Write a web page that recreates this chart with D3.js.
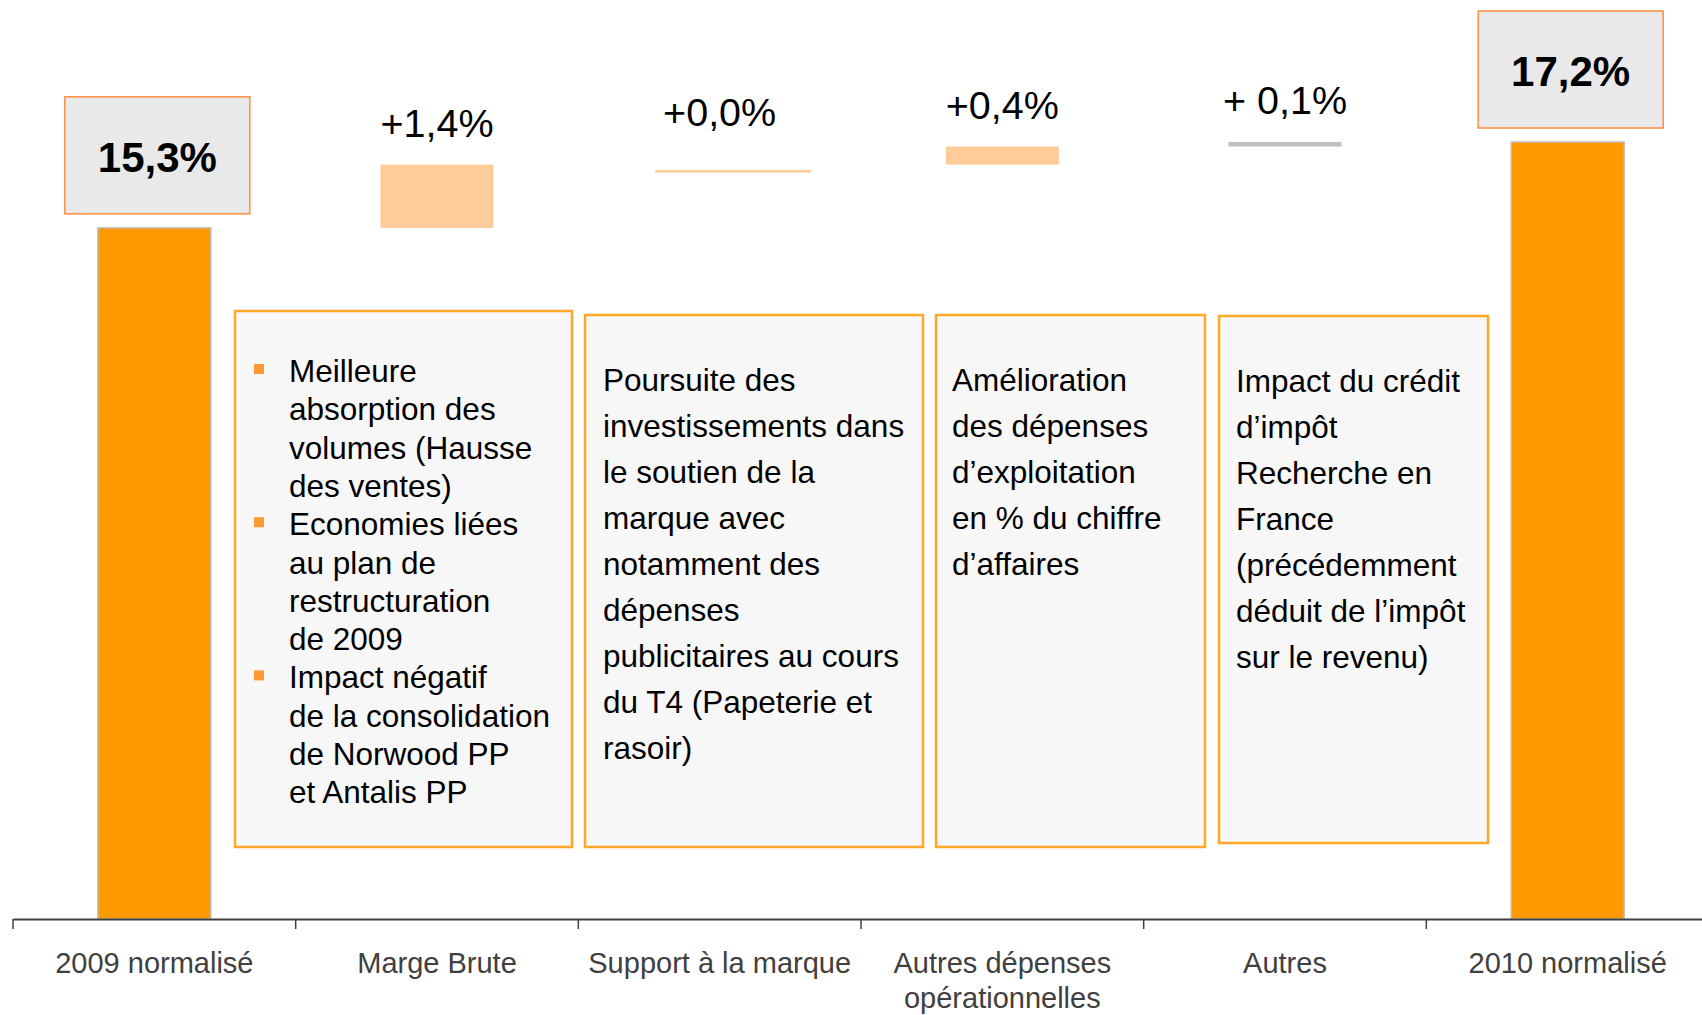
<!DOCTYPE html>
<html lang="fr">
<head>
<meta charset="utf-8">
<script src="https://cdn.jsdelivr.net/npm/d3@7"></script>
<style>
  body { margin: 0; background: #fff; }
  svg { display: block; font-family: "Liberation Sans", Arial, sans-serif; }
</style>
</head>
<body>
<div id="chart"></div>
<script>
// categories (one entry per bar, split into label lines)
var categories = ["2009 normalisé", "Marge Brute", "Support à la marque",
                  "Autres dépenses opérationnelles", "Autres", "2010 normalisé"];
var categoryLines = [["2009 normalisé"], ["Marge Brute"], ["Support à la marque"],
                     ["Autres dépenses", "opérationnelles"], ["Autres"], ["2010 normalisé"]];

// waterfall levels in %
var stepLow  = [0,    15.3, 16.55, 16.7, 17.1, 0];
var stepHigh = [15.3, 16.7, 16.55, 17.1, 17.2, 17.2];
var stepKind = ["total", "up", "flat", "up", "other", "total"];
var stepLabels = ["15,3%", "+1,4%", "+0,0%", "+0,4%", "+ 0,1%", "17,2%"];

// comment boxes
var noteMarge = [["Meilleure", "absorption des", "volumes (Hausse", "des ventes)"],
                 ["Economies liées", "au plan de", "restructuration", "de 2009"],
                 ["Impact négatif", "de la consolidation", "de Norwood PP", "et Antalis PP"]];
var noteSupport = ["Poursuite des", "investissements dans", "le soutien de la", "marque avec",
                   "notamment des", "dépenses", "publicitaires au cours", "du T4 (Papeterie et", "rasoir)"];
var noteDepenses = ["Amélioration", "des dépenses", "d\u2019exploitation", "en % du chiffre", "d\u2019affaires"];
var noteAutres = ["Impact du crédit", "d\u2019impôt", "Recherche en", "France", "(précédemment",
                  "déduit de l\u2019impôt", "sur le revenu)"];

var width = 1702, height = 1015;

var svg = d3.select("#chart").append("svg")
    .attr("width", width)
    .attr("height", height);

var x = d3.scaleBand().domain(categories).range([13, 1709]).padding(0);
var y = d3.scaleLinear().domain([0, 17.2]).range([919, 142]);
var bw = x.bandwidth();

var steps = categories.map(function(c, i) {
    return { cat: c, low: stepLow[i], high: stepHigh[i], kind: stepKind[i], label: stepLabels[i], lines: categoryLines[i] };
});

// comment boxes (drawn first, behind everything)
var noteBoxes = [
    { x: 235, y: 311, w: 337, h: 536 },
    { x: 585, y: 315, w: 338, h: 532 },
    { x: 936, y: 315, w: 269, h: 532 },
    { x: 1219, y: 316, w: 269, h: 527 }
];
var notes = svg.append("g").attr("class", "notes");
notes.selectAll("rect")
    .data(noteBoxes)
    .enter().append("rect")
    .attr("x", function(d) { return d.x; })
    .attr("y", function(d) { return d.y; })
    .attr("width", function(d) { return d.w; })
    .attr("height", function(d) { return d.h; })
    .attr("fill", "#f7f7f7")
    .attr("stroke", "#ffa726")
    .attr("stroke-width", 2.5);

// bulleted box
var lineNo = 0;
noteMarge.forEach(function(group) {
    notes.append("rect")
        .attr("x", 254).attr("y", 382 + lineNo * 38.3 - 18)
        .attr("width", 10).attr("height", 10)
        .attr("fill", "#ff9933");
    group.forEach(function(t) {
        notes.append("text")
            .attr("x", 289).attr("y", 382 + lineNo * 38.3)
            .attr("font-size", 31.5).attr("fill", "#000")
            .text(t);
        lineNo++;
    });
});

function plainNote(lines, left, top) {
    notes.append("g").selectAll("text")
        .data(lines)
        .enter().append("text")
        .attr("x", left)
        .attr("y", function(d, i) { return top + i * 46; })
        .attr("font-size", 31.5)
        .attr("fill", "#000")
        .text(function(d) { return d; });
}
plainNote(noteSupport, 603, 391);
plainNote(noteDepenses, 952, 391);
plainNote(noteAutres, 1236, 392);

// bars
var bars = svg.append("g").attr("class", "bars");

bars.selectAll("rect.total")
    .data(steps.filter(function(d) { return d.kind == "total"; }))
    .enter().append("rect")
    .attr("class", "total")
    .attr("x", function(d) { return x(d.cat) + bw * 0.3; })
    .attr("width", bw * 0.4)
    .attr("y", function(d) { return y(d.high); })
    .attr("height", function(d) { return y(d.low) - y(d.high); })
    .attr("fill", "#ff9900")
    .attr("stroke", "#c0c0c0")
    .attr("stroke-width", 1.5);

bars.selectAll("rect.delta")
    .data(steps.filter(function(d) { return d.kind == "up" || d.kind == "other"; }))
    .enter().append("rect")
    .attr("class", "delta")
    .attr("x", function(d) { return x(d.cat) + bw * 0.3; })
    .attr("width", bw * 0.4)
    .attr("y", function(d) { return y(d.high); })
    .attr("height", function(d) { return y(d.low) - y(d.high); })
    .attr("fill", function(d) { return d.kind == "other" ? "#c0c0c0" : "#ffcc99"; });

// zero change: just a thin line (slightly wider and shifted, as in the slide)
bars.selectAll("line.flat")
    .data(steps.filter(function(d) { return d.kind == "flat"; }))
    .enter().append("line")
    .attr("class", "flat")
    .attr("x1", function(d) { return x(d.cat) + bw * 0.272; })
    .attr("x2", function(d) { return x(d.cat) + bw * 0.824; })
    .attr("y1", function(d) { return y(d.low); })
    .attr("y2", function(d) { return y(d.low); })
    .attr("stroke", "#ffcc99")
    .attr("stroke-width", 2.5);

// total labels in boxes
var totals = svg.append("g").attr("class", "total-labels")
    .selectAll("g")
    .data(steps.filter(function(d) { return d.kind == "total"; }))
    .enter().append("g");

totals.append("rect")
    .attr("x", function(d) { return x(d.cat) + bw / 2 + 3 - 92.5; })
    .attr("y", function(d) { return y(d.high) - 14 - 117; })
    .attr("width", 185)
    .attr("height", 117)
    .attr("fill", "#e9e9e9")
    .attr("stroke", "#ff8c40")
    .attr("stroke-width", 1.5);

totals.append("text")
    .attr("x", function(d) { return x(d.cat) + bw / 2 + 3; })
    .attr("y", function(d) { return y(d.high) - 56; })
    .attr("text-anchor", "middle")
    .attr("font-size", 42)
    .attr("font-weight", "bold")
    .attr("fill", "#000")
    .text(function(d) { return d.label; });

// delta labels
svg.append("g").attr("class", "delta-labels")
    .selectAll("text")
    .data(steps.filter(function(d) { return d.kind != "total"; }))
    .enter().append("text")
    .attr("x", function(d) { return x(d.cat) + bw / 2; })
    .attr("y", function(d) { return d.kind == "flat" ? y(d.low) - 45 : y(d.high) - 28; })
    .attr("text-anchor", "middle")
    .attr("font-size", 39.5)
    .attr("fill", "#000")
    .text(function(d) { return d.label; });

// x axis
var axis = svg.append("g")
    .attr("class", "x-axis")
    .attr("transform", "translate(0," + y(0) + ")")
    .call(d3.axisBottom(x).tickSize(0).tickSizeOuter(0));

axis.select(".domain")
    .attr("stroke", "#404040")
    .attr("stroke-width", 2);

axis.selectAll(".tick text").each(function(c) {
    var lines = categoryLines[categories.indexOf(c)];
    var t = d3.select(this)
        .attr("y", 54)
        .attr("dy", null)
        .attr("font-size", 29)
        .attr("font-family", "'Liberation Sans', Arial, sans-serif")
        .attr("fill", "#404040")
        .text(null);
    lines.forEach(function(l, i) {
        t.append("tspan").attr("x", 0).attr("dy", i == 0 ? 0 : 35).text(l);
    });
});

// separator ticks at band edges
var edges = categories.map(function(c) { return x(c); }).concat([x.range()[1]]);
axis.selectAll("line.edge")
    .data(edges)
    .enter().append("line")
    .attr("class", "edge")
    .attr("x1", function(d) { return d; })
    .attr("x2", function(d) { return d; })
    .attr("y1", 0)
    .attr("y2", 10)
    .attr("stroke", "#404040")
    .attr("stroke-width", 1.5);
</script>
</body>
</html>
